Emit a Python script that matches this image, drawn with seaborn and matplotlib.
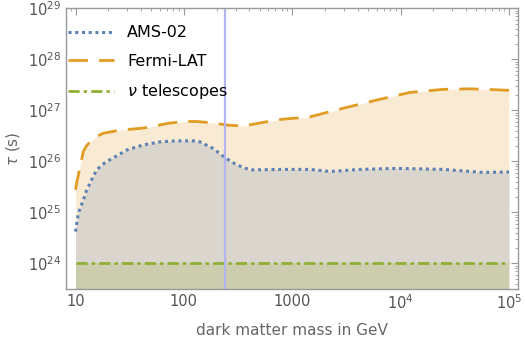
import numpy as np
import pandas as pd
import seaborn as sns
import matplotlib.pyplot as plt
from matplotlib.ticker import FixedLocator, LogLocator, NullFormatter

# AMS-02 bound (log10 mass, log10 tau)
ams_logm = [1.0, 1.013, 1.026, 1.05, 1.072, 1.1, 1.134, 1.165, 1.196, 1.25, 1.318, 1.4,
            1.472, 1.625, 1.78, 1.93, 2.087, 2.149, 2.27, 2.386, 2.487, 2.61, 2.887,
            3.163, 3.348, 3.625, 3.963, 4.393, 4.762, 5.0]
ams_logt = [24.62, 24.81, 24.98, 25.12, 25.24, 25.42, 25.57, 25.71, 25.83, 25.94, 26.03,
            26.13, 26.22, 26.32, 26.38, 26.40, 26.40, 26.38, 26.25, 26.06, 25.93, 25.83,
            25.84, 25.84, 25.80, 25.84, 25.86, 25.84, 25.78, 25.79]

# Fermi-LAT bound
fermi_logm = [1.0, 1.013, 1.026, 1.05, 1.072, 1.1, 1.134, 1.19, 1.256, 1.41, 1.625, 1.872,
              2.026, 2.118, 2.27, 2.395, 2.548, 2.70, 2.887, 3.163, 3.47, 3.779, 4.086,
              4.393, 4.64, 4.793, 5.0]
fermi_logt = [25.44, 25.60, 25.73, 25.98, 26.19, 26.30, 26.38, 26.48, 26.55, 26.61, 26.65,
              26.75, 26.78, 26.78, 26.75, 26.71, 26.69, 26.75, 26.82, 26.87, 27.04, 27.20,
              27.35, 27.41, 27.42, 27.41, 27.39]

# neutrino telescopes
nu_logm = [1.0, 5.0]
nu_logt = [24.0, 24.0]

mass_line = 240

df_ams = pd.DataFrame({"m": 10 ** np.array(ams_logm), "tau": 10 ** np.array(ams_logt)})
df_fermi = pd.DataFrame({"m": 10 ** np.array(fermi_logm), "tau": 10 ** np.array(fermi_logt)})
df_nu = pd.DataFrame({"m": 10 ** np.array(nu_logm), "tau": 10 ** np.array(nu_logt)})

blue = "#5E81B5"
orange = "#E19C24"
green = "#8FB032"

sns.set_style("white")
plt.rcParams['font.family'] = ['DejaVu Sans']

fig = plt.figure(figsize=(5.25, 3.42), dpi=100)
ax = fig.add_axes([0.1257, 0.1558, 0.861, 0.82])
ax.set_xscale("log")
ax.set_yscale("log")
ymin = 10 ** 23.5

for d, c in [(df_fermi, orange), (df_ams, blue), (df_nu, green)]:
    ax.fill_between(d["m"], ymin, d["tau"], color=c, alpha=0.2, lw=0)

sns.lineplot(data=df_ams, x="m", y="tau", ax=ax, color=blue, lw=2.2,
             linestyle=(0, (1, 1.2)), label="AMS-02")
sns.lineplot(data=df_fermi, x="m", y="tau", ax=ax, color=orange, lw=2,
             linestyle=(0, (7, 4)), label="Fermi-LAT")
sns.lineplot(data=df_nu, x="m", y="tau", ax=ax, color=green, lw=2,
             linestyle=(0, (4, 1.5, 1.2, 1.5)), label=r"$\nu$ telescopes")

ax.axvline(mass_line, color="#B4B4F0", lw=1.6)

ax.set_xlim(10 ** 0.912, 10 ** 5.083)
ax.set_ylim(ymin, 1e29)

ax.xaxis.set_major_locator(FixedLocator([10, 100, 1000, 1e4, 1e5]))
ax.set_xticklabels(["10", "100", "1000", r"$10^4$", r"$10^5$"])
ax.yaxis.set_major_locator(FixedLocator([1e24, 1e25, 1e26, 1e27, 1e28, 1e29]))
ax.set_yticklabels([r"$10^{%d}$" % k for k in range(24, 30)])
ax.xaxis.set_minor_locator(LogLocator(base=10, subs=np.arange(2, 10)))
ax.yaxis.set_minor_locator(LogLocator(base=10, subs=np.arange(2, 10)))
ax.xaxis.set_minor_formatter(NullFormatter())
ax.yaxis.set_minor_formatter(NullFormatter())

ax.tick_params(which="both", direction="in", top=True, right=True, colors="#999999",
               labelcolor="#555555", labelsize=10.5)
ax.tick_params(which="major", length=5, width=0.8)
ax.tick_params(which="minor", length=2.5, width=0.6)
for s in ax.spines.values():
    s.set_color("#999999")
    s.set_linewidth(1)

ax.set_xlabel("dark matter mass in GeV", color="#666666", fontsize=11, labelpad=8)
ax.set_ylabel(r"$\tau$ (s)", color="#666666", fontsize=11)

leg = ax.legend(loc="upper left", frameon=False, fontsize=11.5, handlelength=2.9,
                borderpad=0, borderaxespad=0, labelspacing=0.85, handletextpad=0.8,
                bbox_to_anchor=(0.004, 0.94), labelcolor="black")

fig.savefig("out.png", dpi=100)
